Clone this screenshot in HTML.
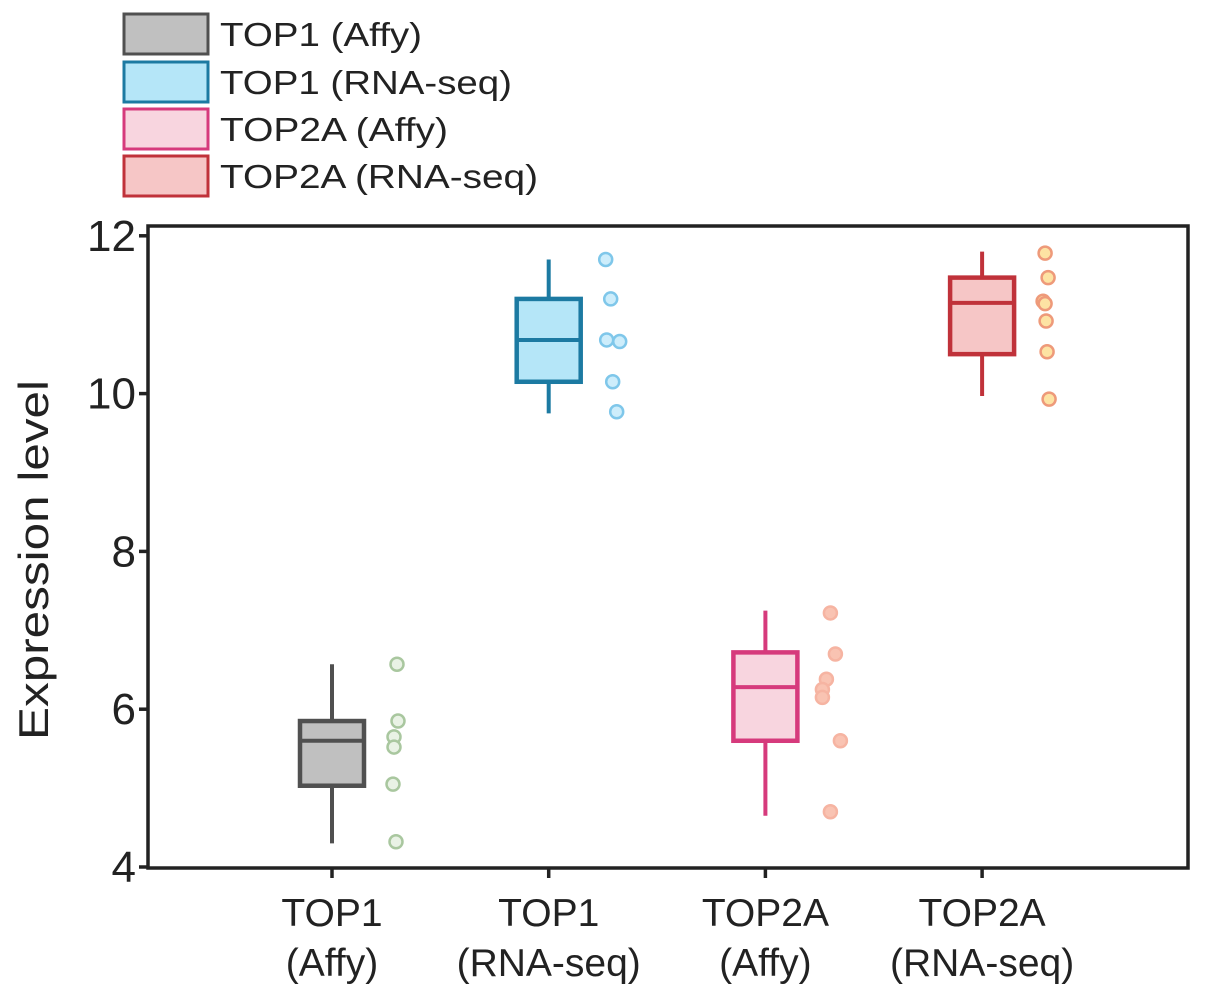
<!DOCTYPE html>
<html><head><meta charset="utf-8"><style>
html,body{margin:0;padding:0;background:#fff;}
svg{display:block;font-family:"Liberation Sans",Arial,sans-serif;}
</style></head><body>
<svg id="chart" width="1205" height="996" viewBox="0 0 1205 996">
<g id="legend"></g>
<rect x="148" y="226" width="1040" height="642" fill="none" stroke="#222" stroke-width="3.5"/>
<g id="yaxis"></g>
<g id="xaxis"></g>
<g id="marks"></g>
<text transform="translate(48,560) rotate(-90)" text-anchor="middle" font-size="42" textLength="360" lengthAdjust="spacingAndGlyphs" fill="#222">Expression level</text>
</svg>
<script>
const categories = [["TOP1","(Affy)"],["TOP1","(RNA-seq)"],["TOP2A","(Affy)"],["TOP2A","(RNA-seq)"]];
const legendLabels = ["TOP1 (Affy)","TOP1 (RNA-seq)","TOP2A (Affy)","TOP2A (RNA-seq)"];
const whiskerLow = [4.3, 9.75, 4.65, 9.97];
const q1 = [5.03, 10.15, 5.6, 10.5];
const median = [5.6, 10.68, 6.28, 11.15];
const q3 = [5.85, 11.2, 6.72, 11.47];
const whiskerHigh = [6.57, 11.7, 7.25, 11.8];
const points0 = [6.57, 5.85, 5.65, 5.52, 5.05, 4.32];
const points1 = [11.7, 11.2, 10.68, 10.66, 10.15, 9.77];
const points2 = [7.22, 6.7, 6.38, 6.25, 6.15, 5.6, 4.7];
const points3 = [11.78, 11.47, 11.17, 11.14, 10.92, 10.53, 9.93];
const yTicks = [4, 6, 8, 10, 12];

const NS = "http://www.w3.org/2000/svg";
const jit = [[65,66,62,62,61,64],[57,62,58,71,64,68],[65,70,61,57,57,75,65],[63,66,61,63,64,65,67]];
const fills = ["#c0c0c0","#b5e6f8","#f8d5df","#f6c6c6"];
const strokes = ["#505050","#1c7aa2","#d63a7c","#c0323a"];
const pFill = ["#e9f2e5","#cdedfb","#f9c3b2","#fde3a3"];
const pStroke = ["#a9c79f","#7fc7ea","#f6b4a2","#ee9a7a"];
const legendWidths = [202, 292, 228, 318];
const allPoints = [points0, points1, points2, points3];
function y(v){ return 867 - (v - 4) * 78.9; }
function x(i){ return 332 + i * 216.7; }
function mk(tag, attrs, parent){ const e = document.createElementNS(NS, tag); for (const k in attrs) e.setAttribute(k, attrs[k]); parent.appendChild(e); return e; }

const leg = document.getElementById('legend');
legendLabels.forEach((l, i) => {
  const yy = [14, 62, 109, 156][i];
  const r = mk('rect', {x:124, y:yy, width:84, height:40, fill:fills[i], stroke:strokes[i], 'stroke-width':3}, leg);
  
  
  const t = mk('text', {x:220, y:yy+32, 'font-size':33, fill:'#222', textLength:legendWidths[i], lengthAdjust:'spacingAndGlyphs'}, leg);
  t.textContent = l;
  
  
});

const ya = document.getElementById('yaxis');
yTicks.forEach(v => {
  const l = mk('line', {x1:139, x2:148, y1:y(v), y2:y(v), stroke:'#222', 'stroke-width':3.5}, ya);
  
  
  const t = mk('text', {x:136, y:y(v)+15, 'text-anchor':'end', 'font-size':44, fill:'#222'}, ya);
  t.textContent = v;
  
  
});

const xa = document.getElementById('xaxis');
categories.forEach((c, i) => {
  const l = mk('line', {x1:x(i), x2:x(i), y1:868, y2:878, stroke:'#222', 'stroke-width':3.5}, xa);
  
  
  c.forEach((s, k) => {
    const t = mk('text', {x:x(i), y:926 + k*50, 'text-anchor':'middle', 'font-size':39, fill:'#222'}, xa);
    t.textContent = s;
    
    
  });
});

const mg = document.getElementById('marks');
categories.forEach((c, i) => {
  const cx = x(i), hw = 32;
  const w = mk('line', {x1:cx, x2:cx, y1:y(whiskerLow[i]), y2:y(whiskerHigh[i]), stroke:strokes[i], 'stroke-width':4}, mg);
  
  
  const b = mk('rect', {x:cx-hw, y:y(q3[i]), width:hw*2, height:y(q1[i])-y(q3[i]), fill:fills[i], stroke:strokes[i], 'stroke-width':4.5}, mg);
  
  
  const m = mk('line', {x1:cx-hw, x2:cx+hw, y1:y(median[i]), y2:y(median[i]), stroke:strokes[i], 'stroke-width':4}, mg);
  
  
  allPoints[i].forEach((v, k) => {
    const p = mk('circle', {cx:cx + jit[i][k % jit[i].length], cy:y(v), r:6.5, fill:pFill[i], stroke:pStroke[i], 'stroke-width':2.5}, mg);
    
    
  });
});
</script>
</body></html>
